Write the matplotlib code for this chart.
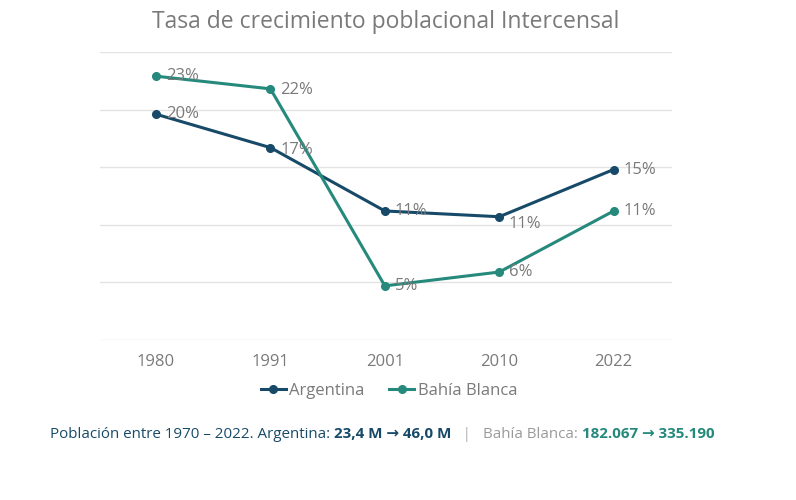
import matplotlib
matplotlib.use("Agg")
import matplotlib.pyplot as plt

plt.rcParams['font.family'] = ['Open Sans', 'DejaVu Sans']

years = ["1980", "1991", "2001", "2010", "2022"]
argentina = [19.6, 16.7, 11.2, 10.7, 14.8]
bahia = [22.9, 21.8, 4.7, 5.9, 11.2]
arg_labels = ["20%", "17%", "11%", "11%", "15%"]
bahia_labels = ["23%", "22%", "5%", "6%", "11%"]
# small vertical nudges (points) for the value labels
arg_dy = [0, -2, 0, -5, 0]
bahia_dy = [0, -1, 0, 0, 0]

NAVY = "#174a68"
TEAL = "#25897b"
GRAY = "#7a7a7a"
GRID = "#e3e3e3"

fig = plt.figure(figsize=(7.96, 5.0), dpi=100)
ax = fig.add_axes([100/796, 1-340/500, 572/796, 288/500])

x = list(range(len(years)))
ax.plot(x, argentina, color=NAVY, lw=2.2, marker='o', ms=5.5, label="Argentina", zorder=3)
ax.plot(x, bahia, color=TEAL, lw=2.2, marker='o', ms=5.5, label="Bahía Blanca", zorder=3)

for xi, v, t, dy in zip(x, argentina, arg_labels, arg_dy):
    ax.annotate(t, (xi, v), xytext=(7, dy), textcoords='offset points',
                va='center', ha='left', fontsize=12, color=GRAY, zorder=4)
for xi, v, t, dy in zip(x, bahia, bahia_labels, bahia_dy):
    ax.annotate(t, (xi, v), xytext=(7, dy), textcoords='offset points',
                va='center', ha='left', fontsize=12, color=GRAY, zorder=4)

ax.set_xlim(-0.49, 4.51)
ax.set_ylim(0, 25)
ax.set_yticks([0, 5, 10, 15, 20, 25])
ax.set_yticklabels([])
ax.grid(axis='y', color=GRID, lw=1)
ax.set_axisbelow(True)
ax.tick_params(axis='y', length=0)
ax.set_xticks(x)
ax.set_xticklabels(years, fontsize=12, color=GRAY)
ax.tick_params(axis='x', length=0, pad=10)
for s in ax.spines.values():
    s.set_visible(False)

fig.text(386/796, 1-22/500, "Tasa de crecimiento poblacional Intercensal",
         ha='center', va='center', fontsize=16.5, color=GRAY)

leg = fig.legend(loc='center', bbox_to_anchor=(389/796, 1-391/500), ncol=2,
                 frameon=False, fontsize=12, handlelength=1.5, handletextpad=0.2,
                 columnspacing=1.5)
for t in leg.get_texts():
    t.set_color(GRAY)

# footer built from differently styled pieces, placed on a common baseline
pieces = [
    ("Población entre 1970 – 2022. Argentina: ", NAVY, 'normal'),
    ("23,4 M → 46,0 M", NAVY, 'bold'),
    ("   |   ", "#b0b0b0", 'normal'),
    ("Bahía Blanca: ", "#9a9a9a", 'normal'),
    ("182.067 → 335.190", TEAL, 'bold'),
]
renderer = fig.canvas.get_renderer()
xpos = 50
for txt, col, w in pieces:
    t = fig.text(xpos/796, 1-438/500, txt, color=col, fontweight=w,
                 fontsize=10.9, va='baseline', ha='left')
    xpos += t.get_window_extent(renderer).width

fig.savefig("out.png", dpi=100)
